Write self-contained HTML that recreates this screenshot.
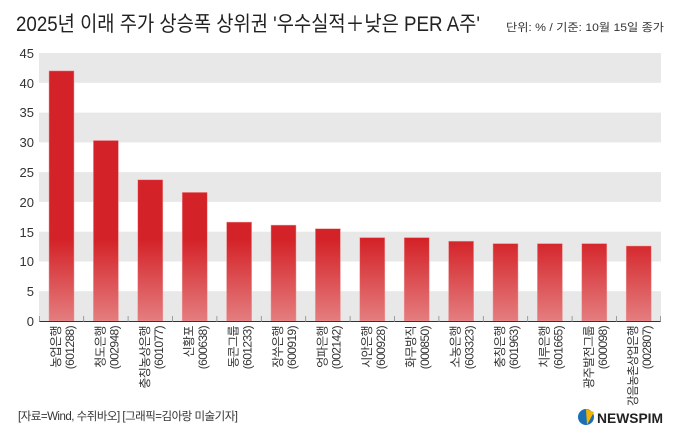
<!DOCTYPE html>
<html><head><meta charset="utf-8"><style>
body{margin:0;background:#fff}
svg{display:block;font-family:"Liberation Sans","Noto Sans CJK KR",sans-serif}
</style></head><body>
<svg width="680" height="442" viewBox="0 0 680 442" xmlns="http://www.w3.org/2000/svg">
<defs>
<linearGradient id="gb" gradientUnits="userSpaceOnUse" x1="0" y1="240" x2="0" y2="321">
<stop offset="0" stop-color="#d42328"/><stop offset="1" stop-color="#e47d7f"/></linearGradient></defs>
<text x="16" y="31" font-size="21" fill="#222" textLength="464" lengthAdjust="spacingAndGlyphs">2025년 이래 주가 상승폭 상위권 '우수실적＋낮은 PER A주'</text>
<text x="664" y="31" font-size="11" fill="#333" text-anchor="end" textLength="158" lengthAdjust="spacingAndGlyphs">단위: % / 기준: 10월 15일 종가</text>
<g fill="#e8e8e8">
<rect x="39" y="53" width="622" height="29.8"/>
<rect x="39" y="112.6" width="622" height="29.8"/>
<rect x="39" y="172.1" width="622" height="29.8"/>
<rect x="39" y="231.7" width="622" height="29.8"/>
<rect x="39" y="291.2" width="622" height="29.8"/>
</g>
<g font-size="13" fill="#333" text-anchor="end">
<text x="34" y="58">45</text><text x="34" y="88">40</text><text x="34" y="117">35</text><text x="34" y="147">30</text><text x="34" y="177">25</text><text x="34" y="207">20</text><text x="34" y="237">15</text><text x="34" y="266">10</text><text x="34" y="296">5</text><text x="34" y="326">0</text>
</g>
<g fill="url(#gb)" stroke="#e99" stroke-width="0.5">
<rect x="49" y="70.9" width="25" height="250.1"/>
<rect x="93.4" y="140.5" width="25" height="180.5"/>
<rect x="137.8" y="179.8" width="25" height="141.2"/>
<rect x="182.2" y="192.4" width="25" height="128.6"/>
<rect x="226.6" y="222.1" width="25" height="98.9"/>
<rect x="271" y="225.1" width="25" height="95.9"/>
<rect x="315.4" y="228.7" width="25" height="92.3"/>
<rect x="359.8" y="237.6" width="25" height="83.4"/>
<rect x="404.2" y="237.6" width="25" height="83.4"/>
<rect x="448.6" y="241.2" width="25" height="79.8"/>
<rect x="493" y="243.6" width="25" height="77.4"/>
<rect x="537.4" y="243.6" width="25" height="77.4"/>
<rect x="581.8" y="243.6" width="25" height="77.4"/>
<rect x="626.2" y="246" width="25" height="75"/>
</g>
<line x1="39" y1="321.5" x2="661" y2="321.5" stroke="#333" stroke-width="1"/>
<g stroke="#888" stroke-width="0.8">
<line x1="39.5" y1="316" x2="39.5" y2="322"/><line x1="83.7" y1="316" x2="83.7" y2="322"/><line x1="128.1" y1="316" x2="128.1" y2="322"/><line x1="172.5" y1="316" x2="172.5" y2="322"/><line x1="216.9" y1="316" x2="216.9" y2="322"/><line x1="261.3" y1="316" x2="261.3" y2="322"/><line x1="305.7" y1="316" x2="305.7" y2="322"/><line x1="350.1" y1="316" x2="350.1" y2="322"/><line x1="394.5" y1="316" x2="394.5" y2="322"/><line x1="438.9" y1="316" x2="438.9" y2="322"/><line x1="483.3" y1="316" x2="483.3" y2="322"/><line x1="527.7" y1="316" x2="527.7" y2="322"/><line x1="572.1" y1="316" x2="572.1" y2="322"/><line x1="616.5" y1="316" x2="616.5" y2="322"/><line x1="660.5" y1="316" x2="660.5" y2="322"/>
</g>
<g font-size="12" fill="#333" text-anchor="end" letter-spacing="-0.6">
<text transform="translate(60,326) rotate(-90)">농업은행</text><text transform="translate(74,326) rotate(-90)">(601288)</text>
<text transform="translate(104.4,326) rotate(-90)">청도은행</text><text transform="translate(118.4,326) rotate(-90)">(002948)</text>
<text transform="translate(148.8,326) rotate(-90)">충칭농상은행</text><text transform="translate(162.8,326) rotate(-90)">(601077)</text>
<text transform="translate(193.2,326) rotate(-90)">신황포</text><text transform="translate(207.2,326) rotate(-90)">(600638)</text>
<text transform="translate(237.6,326) rotate(-90)">동콘그룹</text><text transform="translate(251.6,326) rotate(-90)">(601233)</text>
<text transform="translate(282,326) rotate(-90)">장쑤은행</text><text transform="translate(296,326) rotate(-90)">(600919)</text>
<text transform="translate(326.4,326) rotate(-90)">엉파은행</text><text transform="translate(340.4,326) rotate(-90)">(002142)</text>
<text transform="translate(370.8,326) rotate(-90)">시안은행</text><text transform="translate(384.8,326) rotate(-90)">(600928)</text>
<text transform="translate(415.2,326) rotate(-90)">화무방직</text><text transform="translate(429.2,326) rotate(-90)">(000850)</text>
<text transform="translate(459.6,326) rotate(-90)">소농은행</text><text transform="translate(473.6,326) rotate(-90)">(603323)</text>
<text transform="translate(504,326) rotate(-90)">충칭은행</text><text transform="translate(518,326) rotate(-90)">(601963)</text>
<text transform="translate(548.4,326) rotate(-90)">치루은행</text><text transform="translate(562.4,326) rotate(-90)">(601665)</text>
<text transform="translate(592.8,326) rotate(-90)">광주발전그룹</text><text transform="translate(606.8,326) rotate(-90)">(600098)</text>
<text transform="translate(637.2,326) rotate(-90)" textLength="80" lengthAdjust="spacingAndGlyphs">강음농촌상업은행</text><text transform="translate(651.2,326) rotate(-90)">(002807)</text>
</g>
<text x="18" y="420" font-size="11.5" fill="#333" letter-spacing="-0.5">[자료=Wind, 수쥐바오] [그래픽=김아랑 미술기자]</text>
<circle cx="586" cy="417" r="8" fill="#1a6fb5"/>
<path d="M586 409 L594 412 L587 425 Z" fill="#f4b400"/>
<text x="597" y="423" font-size="14" font-weight="bold" fill="#222" textLength="66" lengthAdjust="spacingAndGlyphs">NEWSPIM</text>
</svg>
</body></html>
